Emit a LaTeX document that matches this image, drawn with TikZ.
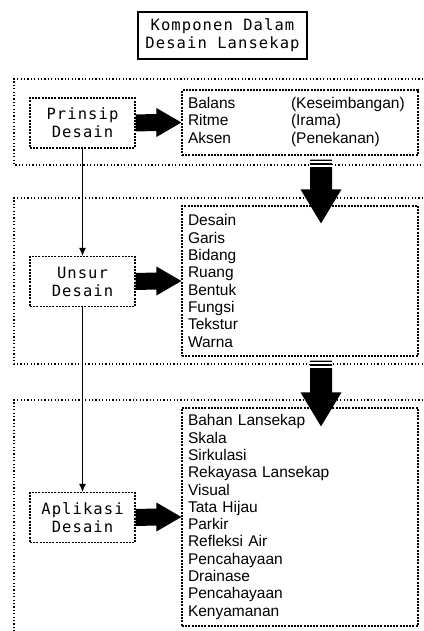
\documentclass[tikz,border=0pt]{standalone}
\usepackage{fontspec}
\usepackage{tikz}
\usetikzlibrary{arrows.meta, positioning, calc}
\newfontfamily\monofont[LetterSpace=7]{DejaVu Sans Mono}
\newfontfamily\listfont{Liberation Sans}

\newcommand{\fatright}[2]{%
  \fill ($(#1.east)+(0,8.5)$) -- ($(#2.west)+(-25,8.5)$)
    -- ($(#2.west)+(-25,14.5)$) -- (#2.west) -- ($(#2.west)+(-25,-14.5)$)
    -- ($(#2.west)+(-25,-8.5)$) -- ($(#1.east)+(0,-8.5)$) -- cycle;}
\newcommand{\fatdown}[2]{%
  \fill ($(#1)+(-11,0)$) -- ($(#1)+(11,0)$) -- ($(#2)+(11,34)$)
    -- ($(#2)+(20.5,34)$) -- (#2) -- ($(#2)+(-20.5,34)$)
    -- ($(#2)+(-11,34)$) -- cycle;
  \draw[white, line width=1.4pt]
    ($(#1)+(-12,-2.5)$) -- ($(#1)+(12,-2.5)$)
    ($(#1)+(-12,-6.5)$) -- ($(#1)+(12,-6.5)$);}

\begin{document}
\begin{tikzpicture}[
    x=1pt, y=1pt,
    titlebox/.style={draw, line width=1.3pt, minimum width=169pt,
                     minimum height=47pt, align=center,
                     font=\monofont\fontsize{15.5}{18}\selectfont},
    partbox/.style={draw, line width=1.2pt, dash pattern=on 2pt off 1.2pt,
                    minimum width=105pt, minimum height=50pt, align=center,
                    font=\monofont\fontsize{15.5}{18}\selectfont},
    listbox/.style={draw, line width=1.2pt, dash pattern=on 2pt off 1.2pt,
                    text width=224pt, inner xsep=6pt, align=left,
                    font=\listfont\fontsize{15.5}{17.3}\selectfont},
    frame/.style={line width=1.2pt, dash pattern=on 1.2pt off 2.2pt},
    arr/.style={-{Latex[length=8pt, width=7pt]}, line width=1pt}
]
\useasboundingbox (0,0) rectangle (423,-631);

\draw[frame] (423,-79) -| (14,-165) -- (423,-165);
\draw[frame] (423,-198) -| (14,-364) -- (423,-364);
\draw[frame] (423,-400) -| (14,-631);

\node[titlebox] (title) at (222.5,-35.5) {Komponen Dalam\\Desain Lansekap};

\node[partbox] (prinsip) at (82.5,-123) {Prinsip\\Desain};
\node[partbox] (unsur) at (82.5,-281.5) {Unsur\\Desain};
\node[partbox] (aplikasi) at (82.5,-517.5) {Aplikasi\\Desain};

\node[listbox, minimum height=65pt] (balans) at (300,-122.5)
    {\begin{tabular}{@{}p{103pt}@{}l@{}}
     Balans & (Keseimbangan)\\
     Ritme  & (Irama)\\
     Aksen  & (Penekanan)
     \end{tabular}};

\node[listbox, minimum height=150pt] (unsurlist) at (300,-281)
    {Desain\\Garis\\Bidang\\Ruang\\Bentuk\\Fungsi\\Tekstur\\Warna};

\node[listbox, minimum height=218pt] (aplikasilist) at (300,-517)
    {Bahan Lansekap\\Skala\\Sirkulasi\\Rekayasa Lansekap\\Visual\\
     Tata Hijau\\Parkir\\Refleksi Air\\Pencahayaan\\Drainase\\
     Pencahayaan\\Kenyamanan};

\draw[arr] (prinsip) -- (unsur);
\draw[arr] (unsur) -- (aplikasi);

\fatright{prinsip}{balans}
\fatright{unsur}{unsurlist}
\fatright{aplikasi}{aplikasilist}

\coordinate (down1) at ($(balans.south)+(21,-4)$);
\coordinate (tip1) at ($(unsurlist.north)+(21,-18)$);
\coordinate (down2) at ($(unsurlist.south)+(21,-4)$);
\coordinate (tip2) at ($(aplikasilist.north)+(21,-19)$);
\fatdown{down1}{tip1}
\fatdown{down2}{tip2}

\end{tikzpicture}
\end{document}
